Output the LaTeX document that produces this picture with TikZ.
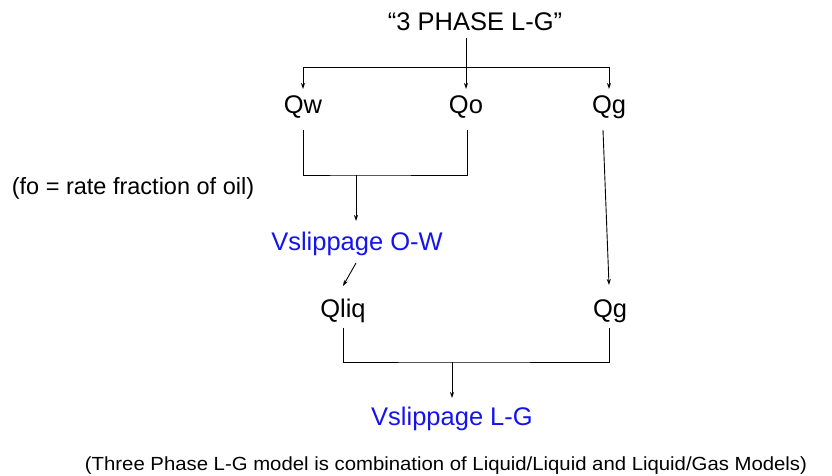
\documentclass[tikz,border=0pt]{standalone}
\usepackage{fontspec}
\setmainfont{Liberation Sans}
\usetikzlibrary{arrows.meta,calc}
\definecolor{vblue}{RGB}{20,20,235}
\tikzset{
  lbl/.style={font=\fontsize{25.5}{28}\selectfont, inner sep=0pt, anchor=center},
  blu/.style={lbl, text=vblue},
  ln/.style={line width=0.9pt, black},
  arr/.style={ln, -{Stealth[length=6pt,width=4pt]}}
}
\begin{document}
\begin{tikzpicture}[x=1pt,y=-1pt]
\useasboundingbox (0,0) rectangle (832,476);
\node[lbl] (top) at (475,22) {“3 PHASE L-G”};
\node[lbl] (qw) at (303,107) {Qw};
\node[lbl] (qo) at (466,107) {Qo};
\node[lbl] (qg) at (609,107) {Qg};
\node[lbl, font=\fontsize{23.5}{26}\selectfont] (fo) at (133,188) {(fo = rate fraction of oil)};
\node[blu] (vow) at (357,244) {Vslippage O-W};
\node[lbl] (qliq) at (343,311) {Qliq};
\node[lbl] (qg2) at (610,311) {Qg};
\node[blu] (vlg) at (452,419) {Vslippage L-G};
\node[lbl, font=\fontsize{19}{22}\selectfont] (foot) at (446,466) {\scalebox{1.07}[1]{(Three Phase L-G model is combination of Liquid/Liquid and Liquid/Gas Models)}};
% junction points
\coordinate (j1) at ($(top)+(-9,45)$);
\coordinate (j2) at (356,175);
\coordinate (j3) at (452,362);
% top split
\draw[ln] ($(top)+(-9,16)$) -- (j1);
\draw[ln] (qw |- j1) -- (qg |- j1);
\draw[arr] (qw |- j1) -- ($(qw)+(0,-18)$);
\draw[arr] (j1) -- ($(qo)+(0,-18)$);
\draw[arr] (qg |- j1) -- ($(qg)+(0,-18)$);
% Qw Qo merge
\draw[ln] ($(qw)+(0,23)$) |- (j2) -| ($(qo)+(1,23)$);
\draw[arr] (j2) -- ($(vow)+(-1,-23)$);
% vow to qliq
\draw[arr] ($(vow)+(-1,19)$) -- ($(qliq)+(0,-25)$);
% qg to qg2
\draw[arr] ($(qg)+(-6,23)$) -- ($(qg2)+(-1,-26)$);
% bottom merge
\draw[ln] ($(qliq)+(0,17)$) |- (j3) -| ($(qg2)+(-1,17)$);
\draw[arr] (j3) -- ($(vlg)+(0,-21)$);
\end{tikzpicture}
\end{document}
